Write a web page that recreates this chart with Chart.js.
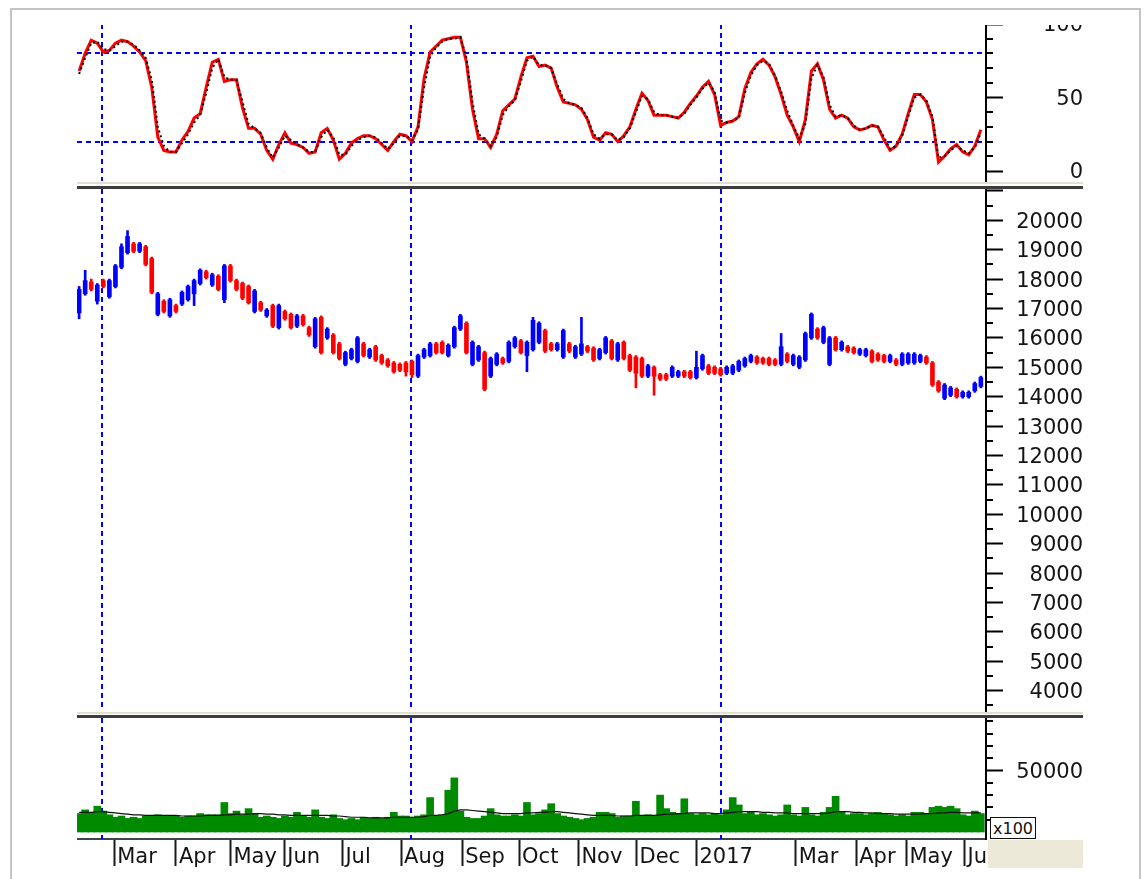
<!DOCTYPE html>
<html>
<head>
<meta charset="utf-8">
<script src="https://cdn.jsdelivr.net/npm/chart.js@4.4.1/dist/chart.umd.min.js"></script>
<style>
  body { margin: 0; background: #fff; overflow: hidden; }
  #page { position: relative; width: 1146px; height: 879px; overflow: hidden; }
  .frame { position: absolute; left: 10px; top: 8px; width: 1127px; height: 900px; border: 2px solid #c4c4c4; }
  .panel { position: absolute; left: 77px; width: 1006px; }
  .sepLight { position: absolute; left: 77px; width: 1006px; height: 2px; background: #e2ded0; }
  .sepDark { position: absolute; left: 77px; width: 1006px; height: 3px; background: #3c3c3c; }
  #unit { position: absolute; left: 990px; top: 817px; width: 46px; height: 22px; border: 1px solid #111; background: #fff;
          font: 16px "DejaVu Sans"; color: #111; line-height: 22px; padding-left: 2px; box-sizing: border-box; }
  #corner { position: absolute; left: 988px; top: 840px; width: 95px; height: 28px; background: #ece9d8; }
</style>
</head>
<body>
<div id="page">
  <div class="frame"></div>
  <div style="position:absolute;left:0;top:25px;width:1146px;height:157px;overflow:hidden">
    <div class="panel" style="top:-16px;height:187px"><canvas id="osc" width="1006" height="187"></canvas></div>
  </div>
  <div class="panel" style="top:174px;height:552px"><canvas id="price" width="1006" height="552"></canvas></div>
  <div class="panel" style="top:703px;height:165px"><canvas id="vol" width="1006" height="165"></canvas></div>
  <div class="sepLight" style="top:182px"></div>
  <div class="sepDark" style="top:186px"></div>
  <div class="sepLight" style="top:712px"></div>
  <div class="sepDark" style="top:715px"></div>
  <div id="unit">x100</div>
  <div id="corner"></div>
</div>
<script>
// one bar = two trading days, mid Feb 2016 .. early Jun 2017
const openPx = [
  16850,17500,17900,17250,17950,17400,17750,18400,18900,19200,
  18950,19100,18700,16800,17250,16750,17100,17150,17300,17500,
  17850,18250,17800,18100,17300,18450,17950,17850,17750,16900,
  17200,16750,17100,16350,16900,16800,16400,16750,16350,15700,
  16700,16000,16100,15800,15100,15300,15200,15800,15350,15700,
  15400,15250,15150,15100,15150,15200,14700,15350,15400,15800,
  15850,15400,15700,16300,16500,15100,15250,15500,14700,15100,
  15300,15200,15700,15900,15400,15600,15850,16250,15800,15600,
  15350,15800,15350,15450,15700,15650,15300,15500,15900,15250,
  15850,15400,15350,15300,14700,15000,14750,14750,14700,14700,
  14850,14850,14650,14950,15050,15000,14950,14800,14800,14900,
  15050,15200,15350,15300,15300,15250,15100,15450,15100,15000,
  15250,16000,16300,15850,15100,16000,15600,15700,15650,15450,
  15400,15550,15450,15400,15200,15250,15100,15150,15150,15200,
  15350,15150,14500,13950,14050,14250,14000,14000,14200,14350
];
const closePx = [
  17650,17950,17650,17800,17750,17950,18450,19100,19450,18950,
  19200,18500,17550,17500,16900,17300,16900,17550,17750,17950,
  18300,18050,18150,17650,18450,17950,17650,17350,17200,17600,
  16950,16950,16400,17100,16650,16350,16750,16450,16100,16650,
  15500,16300,15500,15300,15500,15600,16000,15400,15600,15250,
  15150,15050,14850,14900,14850,14750,15400,15600,15800,15500,
  15500,15750,16350,16750,15500,15850,15700,14250,15300,15450,
  15150,15850,16000,15500,15850,16600,16500,15550,15600,15800,
  16250,15550,15700,15800,15550,15250,15600,16000,15300,15800,
  15300,14900,14800,14700,15050,14700,14600,14600,15000,14850,
  14700,14650,15000,15400,14800,14800,14750,15000,15050,15200,
  15300,15400,15150,15150,15100,15100,15700,15200,15400,15350,
  16150,16800,16000,16350,16000,15600,15850,15550,15500,15600,
  15600,15200,15250,15200,15400,15100,15450,15450,15450,15400,
  15150,14400,14200,14400,14300,14000,14150,14150,14450,14650
];
const highPx = [
  17750,18300,18000,17850,18000,18000,18500,19200,19650,19250,
  19250,19150,18750,17550,17300,17350,17150,17600,17800,18000,
  18350,18300,18200,18150,18500,18500,18000,17900,17800,17650,
  17250,17000,17150,17150,16950,16850,16800,16800,16400,16700,
  16750,16350,16150,15850,15550,15650,16050,15850,15650,15750,
  15450,15300,15200,15150,15200,15250,15450,15650,15850,15850,
  15900,15800,16400,16800,16550,15900,15750,15550,15350,15500,
  15350,15900,16050,15950,15900,16700,16550,16300,15850,15850,
  16300,15850,15750,16700,15750,15700,15650,16050,15950,15850,
  15900,15450,15400,15350,15100,15050,14800,14800,15050,14900,
  14900,14900,15550,15450,15100,15050,15000,15050,15100,15250,
  15350,15450,15400,15350,15350,15300,16150,15500,15450,15400,
  16200,16850,16350,16400,16050,16050,15900,15750,15700,15650,
  15650,15600,15500,15450,15450,15300,15500,15500,15500,15450,
  15400,15200,14550,14450,14350,14300,14200,14200,14500,14700
];
const lowPx = [
  16650,17450,17600,17150,17700,17350,17700,18350,18850,18900,
  18900,18450,17500,16750,16850,16700,16850,17100,17250,17100,
  17800,18000,17750,17600,17200,17900,17600,17300,17150,16850,
  16900,16700,16350,16300,16600,16300,16350,16400,16050,15650,
  15450,15950,15450,15250,15050,15250,15150,15350,15300,15200,
  15100,15000,14800,14850,14700,14650,14650,15300,15350,15450,
  15450,15350,15650,16250,15450,15050,15200,14200,14650,15050,
  15100,15150,15650,15450,14850,15550,15800,15500,15550,15550,
  15300,15500,15300,15400,15500,15200,15250,15450,15250,15200,
  15250,14850,14300,14650,14650,14050,14550,14550,14650,14650,
  14650,14600,14600,14900,14750,14750,14700,14750,14750,14850,
  15000,15150,15100,15100,15050,15050,15050,15150,15050,14950,
  15200,15950,15950,15800,15050,15550,15550,15500,15450,15400,
  15350,15150,15200,15150,15150,15050,15050,15100,15100,15150,
  15100,14350,14150,13900,14000,13950,13950,13950,14150,14300
];
// stochastic-style oscillator: fast (red) and slow (black dashed)
const oscK = [
  68,80,89,87,81,82,87,89,88,85, 81,75,57,23,14,13,13,21,27,36,
  39,57,74,76,61,62,62,43,29,29, 25,14,8,18,26,19,18,16,12,13,
  26,29,21,8,12,19,22,24,24,22, 18,14,20,25,24,20,30,63,81,85,
  89,90,91,91,74,42,22,22,16,25, 41,45,49,64,77,78,71,72,70,57,
  47,46,45,42,35,23,21,26,25,20, 24,30,42,53,48,38,38,38,37,36,
  40,46,51,57,61,52,31,33,34,37, 56,67,73,76,72,64,52,38,30,20,
  35,68,73,62,42,36,38,36,30,28, 29,31,30,21,14,17,25,39,52,52,
  47,35,6,10,15,18,13,11,17,28
];
const oscD = [
  66,77,87,88,83,82,85,88,88,86, 82,77,62,30,17,13,13,19,25,33,
  38,53,70,76,64,62,62,47,32,29, 26,16,9,16,24,21,18,16,13,13,
  23,28,23,11,11,17,21,23,24,23, 19,15,19,24,24,21,28,57,78,84,
  88,90,90,91,77,47,25,22,17,23, 38,44,48,61,75,78,72,72,70,59,
  49,46,45,43,36,25,22,25,25,21, 23,29,40,51,49,40,38,38,37,36,
  39,45,50,56,60,54,34,33,34,36, 53,65,72,75,73,65,54,41,31,22,
  32,63,72,64,45,37,38,36,31,28, 29,31,30,23,15,17,24,37,50,52,
  48,37,9,10,14,17,14,12,16,26
];
// volume in x100 units, and its moving average
const volume = [
  15000,18000,16000,21000,17000,14000,12000,13000,11000,12000,
  11000,13000,13000,14000,13000,13000,13000,12000,13000,13000,
  15000,14000,14000,14000,24000,15000,17000,14000,19000,15000,
  12000,13000,12000,11000,13000,12000,16000,13000,12000,18000,
  12000,11000,14000,11000,10000,11000,10000,12000,11000,12000,
  11000,12000,16000,13000,13000,12000,13000,14000,28000,13000,
  14000,34000,44000,17000,12000,11000,11000,13000,19000,14000,
  13000,13000,14000,13000,24000,14000,15000,18000,23000,15000,
  13000,12000,11000,10000,11000,12000,16000,16000,15000,12000,
  13000,13000,25000,13000,14000,13000,30000,19000,16000,15000,
  27000,15000,14000,15000,14000,15000,14000,18000,28000,22000,
  15000,16000,14000,15000,14000,13000,14000,22000,14000,13000,
  20000,14000,13000,16000,20000,29000,16000,14000,15000,15000,
  14000,15000,16000,15000,14000,13000,14000,13000,16000,16000,
  15000,20000,21000,20000,21000,19000,14000,13000,17000,15000
];
const volumeAvg = [
  16000,16000,16000,16500,16500,16000,15500,15000,14500,14000,
  14000,13500,13500,13500,13500,13500,13500,13000,13000,13000,
  13000,13500,13500,13500,14000,14000,14500,14500,14500,15000,
  15000,14500,14500,14000,14000,13500,13500,13500,13500,13500,
  13500,13500,13000,13000,12500,12000,12000,12000,11500,11500,
  11500,11500,12000,12000,12000,12000,12000,12500,13500,13500,
  14000,15000,17000,18000,18000,17500,17000,16500,16000,15500,
  15000,15000,15000,15000,15500,15500,16000,16000,16500,16500,
  16000,15500,15000,14500,14000,13500,13500,13500,13500,13000,
  13000,13000,13500,13500,13500,13500,14000,14500,14500,15000,
  15000,15500,15500,15500,15500,15000,15000,15500,16000,16500,
  16500,16500,16500,16000,16000,15500,15500,15500,15000,15000,
  15000,15000,15000,15000,15500,16500,16500,16500,16000,16000,
  15500,15500,15000,15000,15000,14500,14500,14500,14500,14500,
  15000,15000,15500,15500,16000,16000,15500,15500,15500,15500
];
// month boundaries, in bar units
const monthStart = [5.8, 16.0, 25.0, 33.9, 43.5, 53.2, 63.3, 72.7, 82.5, 92.1, 102.0, 118.4, 128.4, 136.7, 146.3];
const monthLabels = ['Mar','Apr','May','Jun','Jul','Aug','Sep','Oct','Nov','Dec','2017','Mar','Apr','May','Jun'];
const cycleMarks = [3.8, 54.9, 106.0];
const oscLevels = [20, 80];
const oscTicks = [0, 50, 100];
const priceTicks = [4000,5000,6000,7000,8000,9000,10000,11000,12000,13000,14000,15000,16000,17000,18000,19000,20000,21000];
const volumeTicks = [50000];

const FONT_SIZE = 21;
Chart.defaults.font.family = '"DejaVu Sans", sans-serif';
Chart.defaults.font.size = FONT_SIZE;
Chart.defaults.color = '#141414';
Chart.defaults.animation = false;

const X_MIN = -0.35, X_MAX = 149.85;
const AXIS_W = 97;       // width of the right axis box
const LABEL_RIGHT = 89;  // right edge of tick labels, from the axis line
const TICK_LEN = 17;

function textWidth(s) {
  const c = document.createElement('canvas').getContext('2d');
  c.font = FONT_SIZE + 'px "DejaVu Sans"';
  return c.measureText(s).width;
}

// dashed blue levels and cycle lines
const guides = {
  id: 'guides',
  beforeDatasetsDraw(chart, args, opts) {
    const {ctx, chartArea: a, scales} = chart;
    ctx.save();
    ctx.strokeStyle = '#0000ff';
    ctx.lineWidth = 2;
    ctx.setLineDash([5, 4]);
    (opts.levels || []).forEach(v => {
      const y = Math.round(scales.y.getPixelForValue(v));
      ctx.beginPath(); ctx.moveTo(a.left, y); ctx.lineTo(a.right, y); ctx.stroke();
    });
    (opts.marks || []).forEach(v => {
      const x = Math.round(scales.x.getPixelForValue(v));
      ctx.beginPath(); ctx.moveTo(x, a.top); ctx.lineTo(x, a.bottom); ctx.stroke();
    });
    ctx.restore();
  }
};

// short unlabeled ticks between the labeled ones
const minorTicks = {
  id: 'minorTicks',
  afterDraw(chart, args, opts) {
    if (!opts.step) return;
    const s = chart.scales.y, ctx = chart.ctx;
    ctx.save();
    ctx.strokeStyle = '#000';
    ctx.lineWidth = 2;
    for (let v = opts.from; v <= opts.to; v += opts.step) {
      if (v % opts.every === 0) continue;
      const y = Math.round(s.getPixelForValue(v));
      ctx.beginPath(); ctx.moveTo(s.left, y); ctx.lineTo(s.left + 7, y); ctx.stroke();
    }
    ctx.restore();
  }
};

function rightAxis(min, max, ticks, label) {
  const widest = Math.max(...ticks.map(t => textWidth(label(t))));
  return {
    position: 'right', min: min, max: max,
    afterBuildTicks: s => { s.ticks = ticks.map(v => ({value: v})); },
    // fixed width, and no extra room for the labels above/below
    afterFit: s => { s.width = AXIS_W; s.paddingTop = 0; s.paddingBottom = 0; },
    border: {color: '#000', width: 2},
    grid: {drawOnChartArea: false, tickLength: TICK_LEN, tickColor: '#000', tickWidth: 2},
    ticks: {callback: v => label(v), crossAlign: 'far', labelOffset: 2, padding: LABEL_RIGHT - TICK_LEN - widest}
  };
}

const hiddenX = {type: 'linear', min: X_MIN, max: X_MAX, display: false, offset: false, grid: {offset: false}};
const noChrome = {legend: {display: false}, tooltip: {enabled: false}};
const upDown = ctx => closePx[ctx.dataIndex] >= openPx[ctx.dataIndex] ? '#0000ff' : '#ff0000';

new Chart(document.getElementById('osc'), {
  type: 'line',
  data: {
    datasets: [
      {data: oscD.map((v, i) => ({x: i, y: v})), borderColor: '#000', borderWidth: 2, borderDash: [2, 3], pointRadius: 0},
      {data: oscK.map((v, i) => ({x: i, y: v})), borderColor: '#ff0000', borderWidth: 3, pointRadius: 0}
    ]
  },
  options: {
    responsive: false,
    layout: {padding: {top: 15, bottom: 15, left: 0, right: 0}},
    scales: {x: hiddenX, y: rightAxis(-6.8, 100, oscTicks, v => String(v))},
    plugins: Object.assign({
      guides: {levels: oscLevels, marks: cycleMarks},
      minorTicks: {from: 10, to: 90, step: 10, every: 50}
    }, noChrome)
  },
  plugins: [guides, minorTicks]
});

new Chart(document.getElementById('price'), {
  type: 'bar',
  data: {
    datasets: [
      {data: openPx.map((o, i) => ({x: i, y: [o, closePx[i]]})), backgroundColor: upDown, barThickness: 4, grouped: false},
      {data: lowPx.map((l, i) => ({x: i, y: [l, highPx[i]]})), backgroundColor: upDown, barThickness: 2, grouped: false}
    ]
  },
  options: {
    responsive: false,
    layout: {padding: {top: 15, bottom: 15, left: 0, right: 0}},
    scales: {x: hiddenX, y: rightAxis(3310, 21065, priceTicks, v => v > 20000 ? '' : String(v))},
    plugins: Object.assign({
      guides: {marks: cycleMarks},
      minorTicks: {from: 3500, to: 20500, step: 500, every: 1000}
    }, noChrome)
  },
  plugins: [guides, minorTicks]
});

new Chart(document.getElementById('vol'), {
  type: 'bar',
  data: {
    datasets: [
      {type: 'line', data: volumeAvg.map((v, i) => ({x: i, y: v})), borderColor: '#111', borderWidth: 1.2, pointRadius: 0},
      {data: volume.map((v, i) => ({x: i, y: v})), backgroundColor: '#008a00', barThickness: 7, grouped: false}
    ]
  },
  options: {
    responsive: false,
    layout: {padding: {top: 15, bottom: 0, left: 0, right: 0}},
    scales: {
      x: {
        type: 'linear', min: X_MIN, max: X_MAX, offset: false,
        afterBuildTicks: s => { s.ticks = monthStart.map(v => ({value: v})); },
        afterFit: s => { s.height = 29; s.paddingLeft = 0; s.paddingRight = 0; },
        border: {color: '#444', width: 2},
        grid: {offset: false, drawOnChartArea: false, tickLength: 27, tickColor: '#1a1a1a', tickWidth: 2},
        ticks: {callback: (v, i) => monthLabels[i], autoSkip: false, maxRotation: 0, minRotation: 0,
                align: 'start', labelOffset: 3, padding: -21}
      },
      y: rightAxis(-5690, 92680, volumeTicks, v => String(v))
    },
    plugins: Object.assign({
      guides: {marks: cycleMarks},
      minorTicks: {from: 10000, to: 90000, step: 10000, every: 50000}
    }, noChrome)
  },
  plugins: [guides, minorTicks]
});
</script>
</body>
</html>
